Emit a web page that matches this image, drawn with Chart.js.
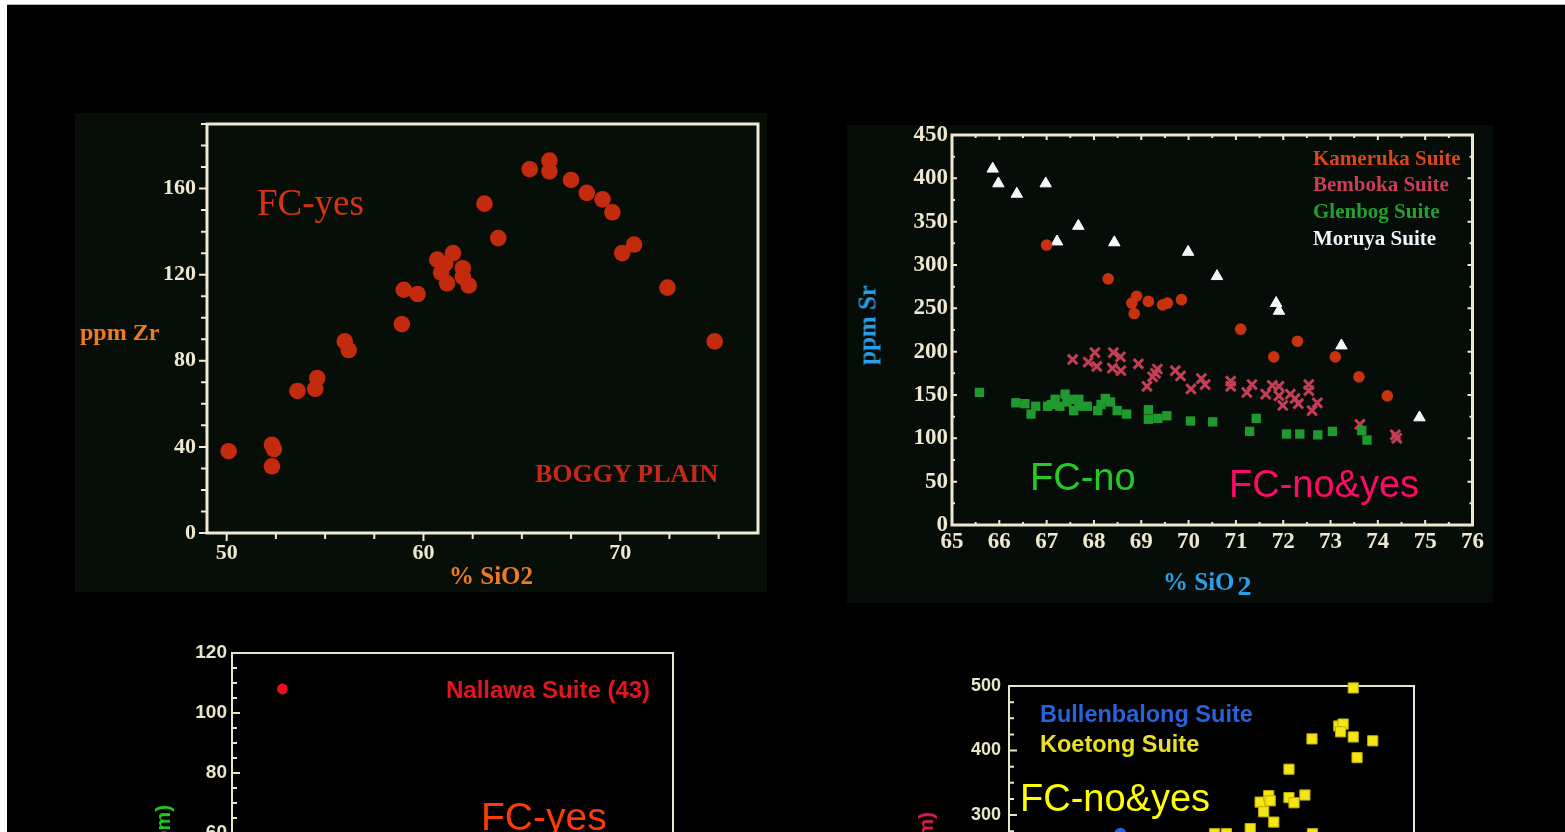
<!DOCTYPE html>
<html>
<head>
<meta charset="utf-8">
<title>Granite suites: fractional crystallisation trends</title>
<script src="https://cdn.jsdelivr.net/npm/chart.js@4.4.1/dist/chart.umd.min.js"></script>
<style>
  html, body { margin: 0; padding: 0; width: 1565px; height: 832px; overflow: hidden; background: #ffffff; }
  #slide { position: absolute; left: 7px; top: 4px; width: 1558px; height: 828px; background: #000; border-top: 1px solid #b8b8b8; box-sizing: border-box; }
  .panel { position: absolute; }
  canvas { position: absolute; display: block; }
  .t { position: absolute; white-space: nowrap; line-height: 1; }
  .serif { font-family: "Liberation Serif", "Times New Roman", serif; }
  .sans { font-family: "Liberation Sans", Arial, sans-serif; }
  .vert { writing-mode: vertical-rl; }
</style>
</head>
<body>
<div id="slide"></div>
<div class="panel" style="left:75px;top:113px;width:692px;height:479px;background:#070e08;"></div>
<div class="panel" style="left:847px;top:125px;width:646px;height:478px;background:#060c08;"></div>

<canvas id="boggy" width="692" height="479" style="left:75px;top:113px;"></canvas>
<canvas id="suites" width="646" height="480" style="left:847px;top:125px;"></canvas>
<canvas id="nallawa" width="560" height="420" style="left:130px;top:640px;"></canvas>
<canvas id="koetong" width="530" height="380" style="left:900px;top:670px;"></canvas>

<!-- Boggy Plain panel text -->
<div class="t serif" style="left:80px;top:320px;font-size:24px;font-weight:bold;color:#ee7a22;">ppm Zr</div>
<div class="t serif" style="left:449px;top:563px;font-size:25px;font-weight:bold;color:#ee7a22;">% SiO2</div>
<div class="t serif" style="left:257px;top:184px;font-size:37px;color:#d8340f;">FC-yes</div>
<div class="t serif" style="left:535px;top:461px;font-size:26px;font-weight:bold;color:#c8281a;">BOGGY PLAIN</div>

<!-- Kameruka / Bemboka / Glenbog / Moruya panel text -->
<div class="t serif vert" style="left:867px;top:325px;transform:translate(-50%,-50%) rotate(180deg);font-size:25px;font-weight:bold;color:#2aa0e8;">ppm Sr</div>
<div class="t serif" style="left:1163px;top:567px;font-size:25px;font-weight:bold;color:#2aa0e8;">% SiO<span style="font-size:28px;position:relative;top:5px;margin-left:3px;">2</span></div>
<div class="t serif" style="left:1313px;top:148px;font-size:21px;font-weight:bold;color:#d8461a;">Kameruka Suite</div>
<div class="t serif" style="left:1313px;top:174px;font-size:21px;font-weight:bold;color:#cc3e58;">Bemboka Suite</div>
<div class="t serif" style="left:1313px;top:201px;font-size:21px;font-weight:bold;color:#22a032;">Glenbog Suite</div>
<div class="t serif" style="left:1313px;top:228px;font-size:21px;font-weight:bold;color:#f4f2fa;">Moruya Suite</div>
<div class="t sans" style="left:1030px;top:458px;font-size:38px;color:#22cc22;">FC-no</div>
<div class="t sans" style="left:1229px;top:465px;font-size:38px;color:#ff0a66;">FC-no&amp;yes</div>

<!-- Nallawa panel text -->
<div class="t sans" style="left:446px;top:678px;font-size:24px;font-weight:bold;color:#e4141c;">Nallawa Suite (43)</div>
<div class="t sans" style="left:481px;top:797px;font-size:39px;color:#ff3a0a;">FC-yes</div>
<div class="t sans vert" style="left:152px;top:805px;transform:rotate(180deg);font-size:21px;font-weight:bold;color:#22c822;">Zr (ppm)</div>

<!-- Bullenbalong / Koetong panel text -->
<div class="t sans" style="left:1040px;top:703px;font-size:23.5px;font-weight:bold;color:#2a62dc;">Bullenbalong Suite</div>
<div class="t sans" style="left:1040px;top:733px;font-size:23.5px;font-weight:bold;color:#e8e020;">Koetong Suite</div>
<div class="t sans" style="left:1020px;top:779px;font-size:38px;color:#ffff00;">FC-no&amp;yes</div>
<div class="t sans vert" style="left:915px;top:812px;transform:rotate(180deg);font-size:21px;font-weight:bold;color:#e0204c;">Sr (ppm)</div>

<script>
// ---- Boggy Plain suite: SiO2 (wt%) vs Zr (ppm) ----
const boggySiO2 = [50.1, 52.3, 52.4, 52.3, 53.6, 54.5, 54.6, 56.0, 56.2, 58.9, 59.0, 59.7,
                   60.7, 61.5, 60.9, 61.2, 61.1, 62.0, 62.0, 62.3, 63.1, 63.8, 65.4, 66.4,
                   66.4, 67.5, 68.3, 69.1, 69.6, 70.1, 70.7, 72.4, 74.8];
const boggyZr   = [38, 41, 39, 31, 66, 67, 72, 89, 85, 97, 113, 111,
                   127, 130, 121, 116, 125, 123, 119, 115, 153, 137, 169, 173,
                   168, 164, 158, 155, 149, 130, 134, 114, 89];
const boggyXLabels = [50, 60, 70];
const boggyYLabels = [0, 40, 80, 120, 160];

// ---- South-eastern suites: SiO2 (wt%) vs Sr (ppm) ----
const kamerukaSiO2 = [67.0, 68.3, 68.9, 68.8, 68.85, 69.15, 69.45, 69.55, 69.85, 71.1, 72.3, 71.8, 73.1, 73.6, 74.2];
const kamerukaSr   = [323, 284, 264, 256, 244, 258, 254, 256, 260, 226, 212, 194, 194, 171, 149];

const bembokaSiO2 = [67.55, 68.02, 67.88, 68.06, 68.41, 68.56, 68.39, 68.57, 68.94, 69.12, 69.24, 69.34,
                     69.30, 69.72, 69.83, 70.05, 70.27, 70.35, 70.89, 70.89, 71.23, 71.34, 71.63, 71.77,
                     71.91, 71.91, 71.99, 72.15, 72.25, 72.32, 72.54, 72.54, 72.61, 72.72, 73.62, 74.37, 74.40];
const bembokaSr   = [191, 199, 188, 183, 199, 194, 181, 178, 186, 160, 171, 180,
                     175, 178, 172, 157, 169, 162, 166, 160, 153, 162, 151, 161,
                     160, 149, 138, 151, 146, 140, 162, 155, 132, 141, 116, 104, 100];

const glenbogSiO2 = [65.58, 66.35, 66.54, 66.67, 66.77, 67.02, 67.10, 67.18, 67.28, 67.39, 67.43, 67.54,
                     67.57, 67.68, 67.68, 67.86, 68.08, 68.15, 68.24, 68.35, 68.49, 68.69, 69.15, 69.15,
                     69.35, 69.54, 70.04, 70.51, 71.29, 71.43, 72.07, 72.35, 72.73, 73.04, 73.66, 73.77];
const glenbogSr   = [153, 141, 140, 128, 137, 137, 139, 145, 137, 151, 142, 145,
                     132, 145, 137, 137, 132, 139, 146, 142, 132, 128, 133, 122,
                     123, 126, 120, 119, 108, 123, 105, 105, 104, 108, 109, 98];

const moruyaSiO2 = [65.86, 65.98, 66.37, 66.98, 67.22, 67.67, 68.43, 69.99, 70.60, 71.85, 71.91, 73.23, 74.88];
const moruyaSr   = [411, 394, 382, 394, 327, 345, 326, 315, 287, 256, 247, 207, 124];

const suitesXLabels = [65, 66, 67, 68, 69, 70, 71, 72, 73, 74, 75, 76];
const suitesYLabels = [0, 50, 100, 150, 200, 250, 300, 350, 400, 450];

// ---- Nallawa suite ----
const nallawaSiO2 = [49.0];
const nallawaZr   = [108];
const nallawaYLabels = [0, 20, 40, 60, 80, 100, 120];

// ---- Bullenbalong and Koetong suites ----
const bullenbalongSiO2 = [64.4];
const bullenbalongSr   = [271];
const koetongSiO2 = [73.6, 71.97, 73.03, 73.2, 73.1, 73.6, 74.37, 73.75, 71.06, 69.92, 70.26, 70.32,
                     70.06, 71.06, 71.26, 71.69, 70.46, 69.53, 71.99, 68.59, 68.12];
const koetongSr   = [497, 418, 438, 441, 429, 421, 415, 389, 371, 320, 330, 322,
                     305, 327, 319, 331, 289, 279, 271, 271, 271];
const koetongYLabels = [0, 100, 200, 300, 400, 500];

// ---------------------------------------------------------------
const CREAM = '#efe8d0';
const SERIF = 'Liberation Serif';
const SANS = 'Liberation Sans';

const pts = (xs, ys) => xs.map((x, i) => ({ x, y: ys[i] }));

function tickValues(first, max, step) {
  const out = [];
  for (let v = first; v <= max + 1e-9; v += step) out.push(Math.round(v * 1000) / 1000);
  return out;
}

// Linear axis with fixed range, every `step` a tick mark, text only on labelled values
function axis(o) {
  return {
    type: 'linear', min: o.min, max: o.max,
    grid: { display: false, drawTicks: false }, border: { display: false },
    afterBuildTicks: s => { s.ticks = tickValues(o.first ?? o.min, o.max, o.step).map(v => ({ value: v })); },
    afterFit: s => {
      if (o.width != null) s.width = o.width;
      if (o.height != null) s.height = o.height;
      s.paddingLeft = s.paddingRight = s.paddingTop = s.paddingBottom = 0;
    },
    ticks: {
      autoSkip: false, maxRotation: 0, minRotation: 0,
      padding: o.pad, color: o.color, font: o.font,
      callback: v => o.labels.some(l => Math.abs(l - v) < 1e-6) ? String(v) : ''
    }
  };
}

// Box round the plot area plus tick marks drawn on chosen sides
const framePlugin = {
  id: 'frame',
  beforeDatasetsDraw(chart, args, o) {
    const { ctx, chartArea: a, scales } = chart;
    ctx.save();
    ctx.strokeStyle = o.color;
    ctx.lineWidth = o.lineWidth;
    ctx.strokeRect(a.left, a.top, a.right - a.left, a.bottom - a.top);
    ctx.lineWidth = o.tickWidth;
    ctx.beginPath();
    const sides = o.sides || [];
    scales.x.ticks.forEach(t => {
      const p = scales.x.getPixelForValue(t.value);
      const len = t.label !== '' ? o.major : o.minor;
      const d = o.inward ? -len : len;
      if (sides.includes('bottom')) { ctx.moveTo(p, a.bottom); ctx.lineTo(p, a.bottom + d); }
      if (sides.includes('top')) { ctx.moveTo(p, a.top); ctx.lineTo(p, a.top - d); }
    });
    scales.y.ticks.forEach(t => {
      const p = scales.y.getPixelForValue(t.value);
      const len = t.label !== '' ? o.major : o.minor;
      const d = o.inward ? -len : len;
      if (sides.includes('left')) { ctx.moveTo(a.left, p); ctx.lineTo(a.left - d, p); }
      if (sides.includes('right')) { ctx.moveTo(a.right, p); ctx.lineTo(a.right + d, p); }
    });
    ctx.stroke();
    ctx.restore();
  }
};
Chart.register(framePlugin);

function options(padding, x, y, frame) {
  return {
    responsive: false, animation: false, events: [],
    layout: { padding },
    plugins: { legend: { display: false }, tooltip: { enabled: false }, frame },
    scales: { x, y }
  };
}

// Boggy Plain: Zr vs SiO2
new Chart(document.getElementById('boggy'), {
  type: 'scatter',
  data: { datasets: [{
    data: pts(boggySiO2, boggyZr), pointStyle: 'circle', pointRadius: 8.3,
    backgroundColor: '#c42a0e', borderWidth: 0, clip: false
  }] },
  options: options(
    { left: 0, top: 11, right: 9, bottom: 0 },
    axis({ min: 49, max: 77, first: 50, step: 2.5, labels: boggyXLabels, height: 59, pad: 7,
           color: CREAM, font: { family: SERIF, size: 22, weight: 'bold' } }),
    axis({ min: 0, max: 190, step: 10, labels: boggyYLabels, width: 132, pad: 11,
           color: CREAM, font: { family: SERIF, size: 22, weight: 'bold' } }),
    { color: '#f0ead4', lineWidth: 3, tickWidth: 2, major: 8, minor: 6, inward: false, sides: ['left', 'bottom'] }
  )
});

// Kameruka, Bemboka, Glenbog and Moruya suites: Sr vs SiO2
new Chart(document.getElementById('suites'), {
  type: 'scatter',
  data: { datasets: [
    { data: pts(glenbogSiO2, glenbogSr), pointStyle: 'rect', pointRadius: 6.6,
      backgroundColor: '#1f9a2e', borderColor: '#1f9a2e', borderWidth: 0, clip: false },
    { data: pts(bembokaSiO2, bembokaSr), pointStyle: 'crossRot', pointRadius: 6.8,
      backgroundColor: '#c43e56', borderColor: '#c43e56', borderWidth: 3, clip: false },
    { data: pts(kamerukaSiO2, kamerukaSr), pointStyle: 'circle', pointRadius: 5.8,
      backgroundColor: '#c8320f', borderWidth: 0, clip: false },
    { data: pts(moruyaSiO2, moruyaSr), pointStyle: 'triangle', pointRadius: 6.6,
      backgroundColor: '#f6f6fb', borderColor: '#ffffff', borderWidth: 1, clip: false }
  ] },
  options: options(
    { left: 0, top: 10, right: 20.5, bottom: 0 },
    axis({ min: 65, max: 76, step: 0.5, labels: suitesXLabels, height: 80, pad: 3,
           color: CREAM, font: { family: SERIF, size: 23, weight: 'bold' } }),
    axis({ min: 0, max: 450, step: 25, labels: suitesYLabels, width: 105, pad: 4,
           color: CREAM, font: { family: SERIF, size: 23, weight: 'bold' } }),
    { color: '#efe8d0', lineWidth: 3, tickWidth: 2, major: 5, minor: 3, inward: true, sides: ['left', 'bottom', 'top', 'right'] }
  )
});

// Nallawa suite
new Chart(document.getElementById('nallawa'), {
  type: 'scatter',
  data: { datasets: [{
    data: pts(nallawaSiO2, nallawaZr), pointStyle: 'circle', pointRadius: 5.4,
    backgroundColor: '#e8101a', borderWidth: 0, clip: false
  }] },
  options: options(
    { left: 0, top: 13, right: 17, bottom: 0 },
    axis({ min: 45, max: 80, step: 5, labels: [50, 60, 70, 80], height: 47, pad: 6,
           color: '#e8e6c8', font: { family: SANS, size: 19, weight: 'bold' } }),
    axis({ min: 0, max: 120, step: 5, labels: nallawaYLabels, width: 102, pad: 5,
           color: '#e8e6c8', font: { family: SANS, size: 19, weight: 'bold' } }),
    { color: '#e8e6c8', lineWidth: 2, tickWidth: 2, major: 8, minor: 5, inward: true, sides: ['left'] }
  )
});

// Bullenbalong and Koetong suites
new Chart(document.getElementById('koetong'), {
  type: 'scatter',
  data: { datasets: [
    { data: pts(bullenbalongSiO2, bullenbalongSr), pointStyle: 'circle', pointRadius: 6,
      backgroundColor: '#2a5ee0', borderWidth: 0, clip: false },
    { data: pts(koetongSiO2, koetongSr), pointStyle: 'rect', pointRadius: 7.2,
      backgroundColor: '#f4e614', borderColor: '#bfae00', borderWidth: 1, clip: false }
  ] },
  options: options(
    { left: 0, top: 16, right: 16, bottom: 0 },
    axis({ min: 60, max: 76, step: 2, labels: [60, 64, 68, 72, 76], height: 41.5, pad: 6,
           color: '#e8e6c8', font: { family: SANS, size: 18, weight: 'bold' } }),
    axis({ min: 0, max: 500, step: 25, labels: koetongYLabels, width: 109, pad: 8,
           color: '#e8e6c8', font: { family: SANS, size: 18, weight: 'bold' } }),
    { color: '#e8e6c8', lineWidth: 2, tickWidth: 2, major: 8, minor: 5, inward: true, sides: ['left'] }
  )
});
</script>
</body>
</html>
